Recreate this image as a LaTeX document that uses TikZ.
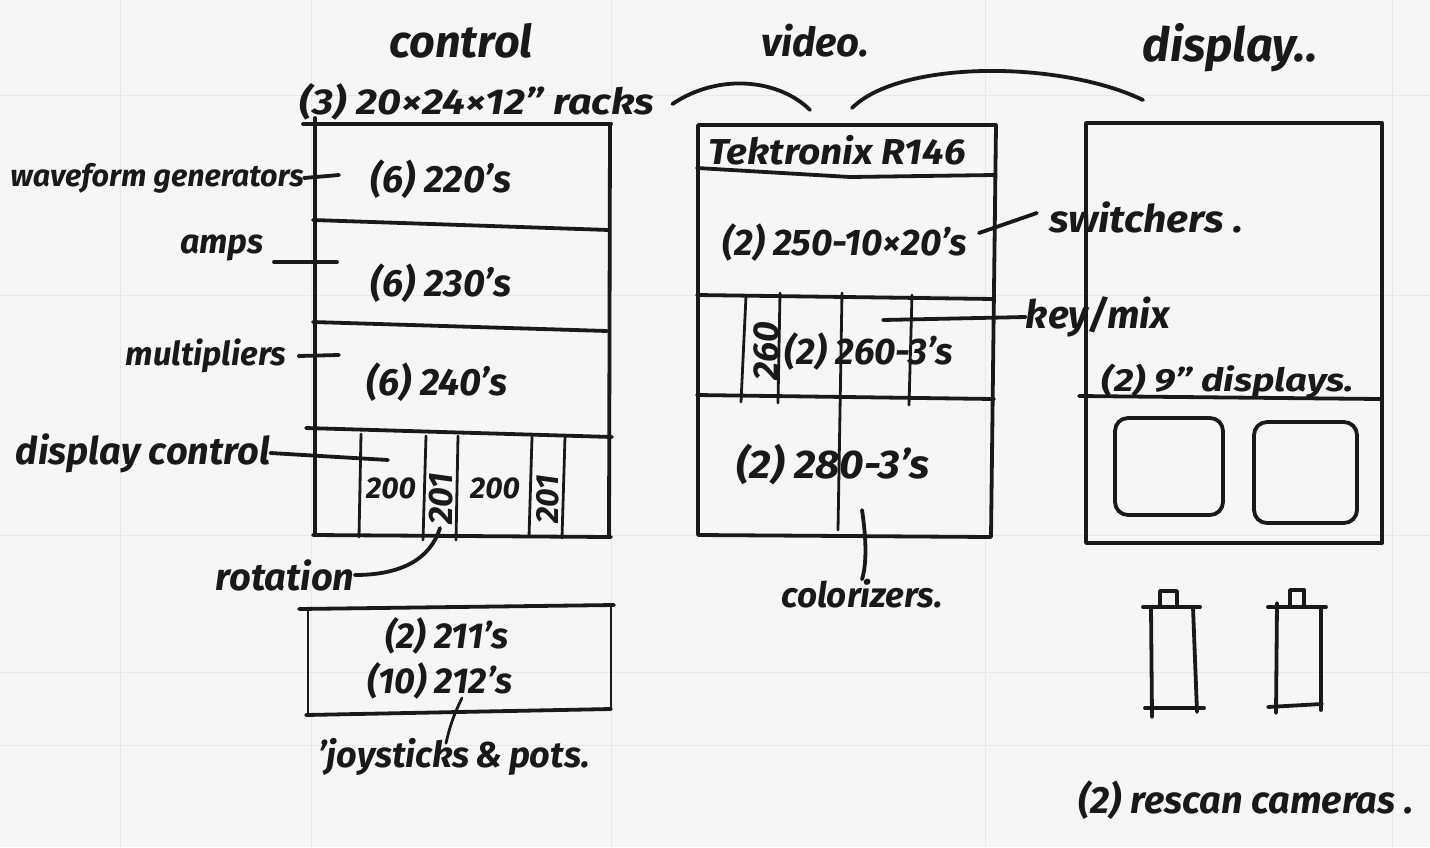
\documentclass[tikz,border=0pt]{standalone}
\usepackage{fontspec}
\setmainfont{Fira Sans}
\usetikzlibrary{calc}
\definecolor{paper}{gray}{0.965}
\definecolor{inkc}{gray}{0.1}
\tikzset{
  x=1pt,y=-1pt,
  ink/.style={draw=inkc,line width=3.8pt,line cap=round,line join=round},
  fine ink/.style={draw=inkc,line width=2.8pt,line cap=round,line join=round},
  faint/.style={draw=black!9,line width=1pt},
  lab/.style={inner sep=0pt,text=inkc,font=\fontsize{#1}{#1}\selectfont\itshape\bfseries},
  lab/.default=36
}
\begin{document}
\begin{tikzpicture}
\useasboundingbox[fill=paper] (0,0) rectangle (1430,847);
% faint paper grid
\foreach \gx in {120,311,611,985,1392}{\draw[faint] (\gx,0) -- (\gx,847);}
\foreach \gy in {95,295,535,672,745}{\draw[faint] (0,\gy) -- (1430,\gy);}
% control rack
\draw[ink] (303,124) -- (611,124);
\draw[ink] (315,118) -- (315,535);
\draw[ink] (610,124) -- (609,535);
\draw[ink] (313,535) -- (611,537);
\draw[ink] (313,220) -- (609,230);
\draw[ink] (313,322) -- (607,331);
\draw[ink] (306,428) -- (612,437);
\draw[fine ink] (361,434) -- (359,537);
\draw[fine ink] (426,436) -- (423,540);
\draw[fine ink] (458,436) -- (456,540);
\draw[fine ink] (532,437) -- (529,537);
\draw[fine ink] (565,437) -- (562,538);
% video rack
\draw[ink] (698,125) -- (996,125) -- (991,537) -- (698,535) -- cycle;
\draw[ink] (697,168) -- (850,177) -- (994,175);
\draw[ink] (697,295) -- (994,299);
\draw[ink] (697,395) -- (994,399);
\draw[fine ink] (746,296) -- (741,402);
\draw[fine ink] (780,293) -- (778,403);
\draw[fine ink] (842,293) -- (838,530);
\draw[fine ink] (912,295) -- (909,405);
% display rack
\draw[ink] (1086,123) -- (1382,123) -- (1382,543) -- (1086,543) -- cycle;
\draw[ink] (1079,396) -- (1380,399);
\draw[ink,rounded corners=13pt] (1115,418) rectangle (1223,515);
\draw[ink,rounded corners=13pt] (1254,422) rectangle (1357,523);
% control panel
\draw[ink] (299,609) -- (614,605);
\draw[ink] (306,715) -- (611,709);
\draw[fine ink] (308,609) -- (308,714);
\draw[fine ink] (611,606) -- (611,709);
% cameras
\draw[ink] (1143,607) -- (1200,607);
\draw[ink] (1151,607) -- (1152,717);
\draw[ink] (1193,607) -- (1197,712);
\draw[ink] (1145,708) -- (1204,708);
\draw[ink] (1160,607) -- (1160,591) -- (1177,591) -- (1177,607);
\draw[ink] (1268,607) -- (1326,607);
\draw[ink] (1277,603) -- (1276,713);
\draw[ink] (1321,607) -- (1321,710);
\draw[ink] (1268,707) -- (1322,704);
\draw[ink] (1290,607) -- (1290,590) -- (1304,590) -- (1304,607);
% titles
\node[lab=45] (tcontrol) at (461,41) {control};
\node[lab=40] (tvideo) at (815,41) {video.};
\node[lab=47] (tdisplay) at (1230,48) {display..};
\node[lab=36,xscale=1.15] (tracks) at (477,102) {(3) 20×24×12" racks};
\coordinate (brA) at (810,110);
\coordinate (brB) at (852,108);
\coordinate (brC) at (1143,100);
\draw[ink] (tracks.east) ++(18,2) .. controls (720,72) and (780,80) .. (brA);
\draw[ink] (brB) .. controls (900,60) and (1060,60) .. (brC);
% control labels
\node[lab=30.5] (lwave) at (157,178) {waveform generators};
\node[lab=34] (lamps) at (222,248) {amps};
\node[lab=33] (lmult) at (206,356) {multipliers};
\node[lab=38] (ldisp) at (143,453) {display control};
\node[lab=38] (lrot) at (285,575) {rotation};
\node[lab=36] (ljoy) at (454,757) {'joysticks\,\&\,pots.};
\node[lab=38] (n220) at (441,179) {(6) 220's};
\node[lab=38] (n230) at (441,283) {(6) 230's};
\node[lab=38] (n240) at (437,382) {(6) 240's};
\node[lab=30] (n200a) at (391,488) {200};
\node[lab=34,rotate=90] (n201a) at (441,499) {201};
\node[lab=30] (n200b) at (495,488) {200};
\node[lab=32,rotate=90] (n201b) at (548,499) {201};
\node[lab=36] (n211) at (447,636) {(2) 211's};
\node[lab=36] (n212) at (440,681) {(10) 212's};
% video labels
\node[lab=36,xscale=1.08] (ntek) at (837,150) {Tektronix R146};
\node[lab=37] (n250) at (845,243) {(2) 250-10×20's};
\node[lab=36,rotate=90] (n260) at (766,351) {260};
\node[lab=37] (n260b) at (869,352) {(2) 260-3's};
\node[lab=40,xscale=1.06] (n280) at (833,464) {(2) 280-3's};
\node[lab=35] (lcolor) at (862,594) {colorizers.};
\node[lab=38,xscale=1.08] (lswitch) at (1146,217) {switchers .};
\node[lab=39] (lkey) at (1098,317) {key/mix};
% display labels
\node[lab=32,xscale=1.2] (n9) at (1228,381) {(2) 9" displays.};
\node[lab=38] (lrescan) at (1246,800) {(2) rescan cameras .};
% connectors
\coordinate (cWave) at (339,175);
\coordinate (cAmps) at (337,262);
\coordinate (cMult) at (339,355);
\coordinate (cDisp) at (388,460);
\coordinate (cRot) at (440,528);
\coordinate (cJoy) at (462,698);
\coordinate (cCol) at (862,510);
\coordinate (cSw) at (979,233);
\coordinate (cKey) at (883,320);
\draw[ink] (lwave.east) -- (cWave);
\draw[ink] (lamps.east) ++(10,14) -- (cAmps);
\draw[ink] (lmult.east) ++(12,0) -- (cMult);
\draw[ink] (ldisp.east) -- (cDisp);
\draw[ink] (lrot.east) .. controls (400,575) and (430,560) .. (cRot);
\draw[fine ink] (ljoy.north) ++(-8,5) .. controls (450,725) and (455,712) .. (cJoy);
\draw[ink] (lcolor.north) .. controls (868,560) and (865,530) .. (cCol);
\draw[ink] (lswitch.west) ++(-12,-4) -- (cSw);
\draw[ink] (lkey.west) -- (cKey);
\end{tikzpicture}
\end{document}
